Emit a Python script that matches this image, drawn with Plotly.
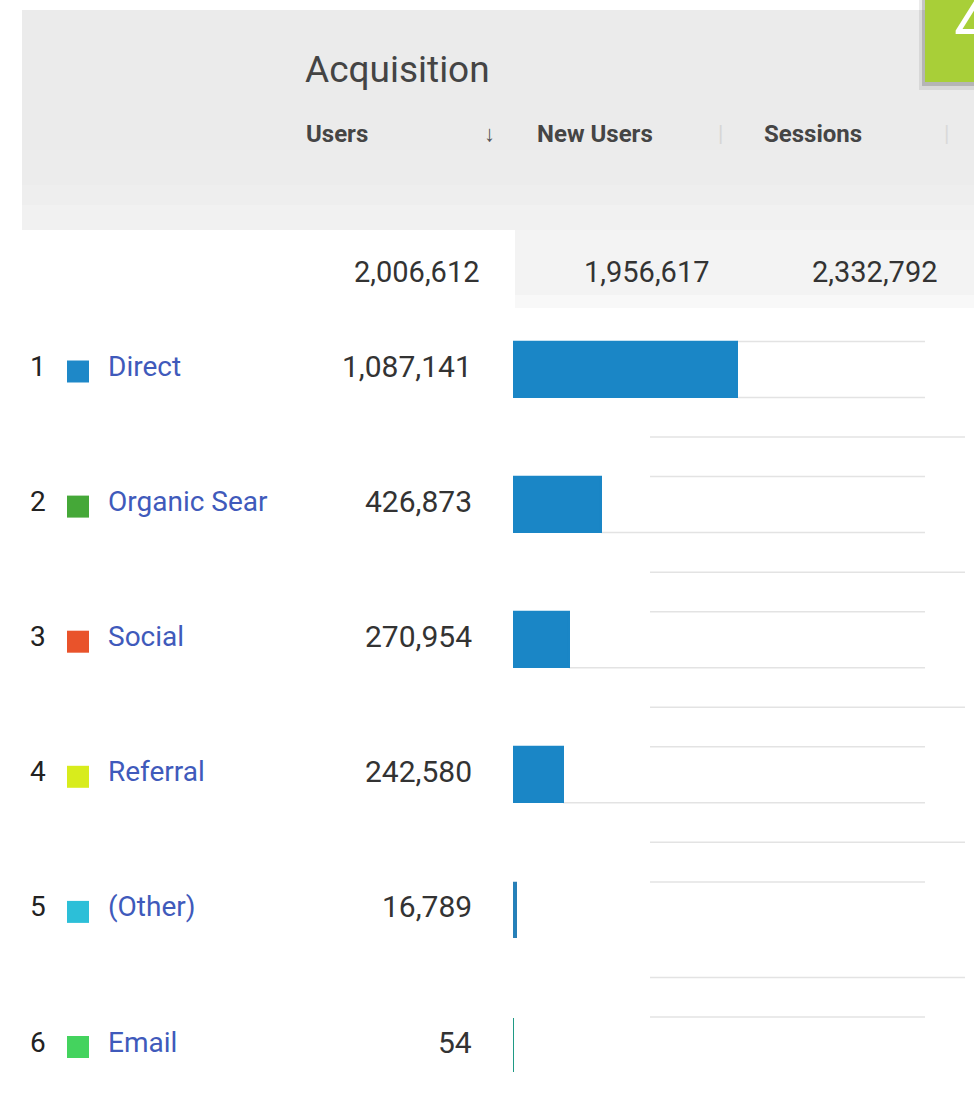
import plotly.graph_objects as go

# ---- data ----
ranks = [1, 2, 3, 4, 5, 6]
channels = ["Direct", "Organic Sear", "Social", "Referral", "(Other)", "Email"]
users = [1087141, 426873, 270954, 242580, 16789, 54]
swatch_colors = ["#1e88c8", "#45a838", "#e9532b", "#d8ec1c", "#2cbfd8", "#44d35e"]
bar_edge_colors = ["#1a86c6", "#1a86c6", "#1a86c6", "#1a86c6", "#2a7fb5", "#1f9a85"]
section_title = "Acquisition"
header_labels = ["Users", "New Users", "Sessions"]
totals = [2006612, 1956617, 2332792]
badge_text = "4"

# ---- layout helpers (pixel -> paper) ----
W, H = 974, 1116
def px(x):
    return x / W
def py(y):
    return 1 - y / H

ROW0, ROWSTEP = 369.5, 135.1
BAR_LEFT, BAR_FULL = 513, 224  # pixel where bars start, pixel length of largest bar
xmax = users[0] * (W - BAR_LEFT) / BAR_FULL

def xdata(pix):
    return (pix - BAR_LEFT) / (W - BAR_LEFT) * xmax

def rowc(i):
    return ROW0 + ROWSTEP * i

FONT = "Roboto, Arial, sans-serif"

fig = go.Figure()
fig.add_trace(go.Bar(
    y=channels, x=users, orientation="h", width=0.405,
    marker=dict(color="#1a86c6", line=dict(color=bar_edge_colors, width=2.2)),
    hoverinfo="skip", showlegend=False,
))

shapes = []
# header background (soft vertical gradient)
bands = [(10, 150, "#ebebeb"), (150, 185, "#ececec"), (185, 205, "#eeeeee"), (205, 230, "#f1f1f1")]
for y0, y1, col in bands:
    shapes.append(dict(type="rect", xref="paper", yref="paper", x0=px(22), x1=px(W), y0=py(y1), y1=py(y0),
                       fillcolor=col, line=dict(width=0), layer="below"))
shapes.append(dict(type="rect", xref="paper", yref="paper", x0=px(515), x1=px(W), y0=py(295), y1=py(230),
                   fillcolor="#f3f3f3", line=dict(width=0), layer="below"))
shapes.append(dict(type="rect", xref="paper", yref="paper", x0=px(515), x1=px(W), y0=py(308), y1=py(295),
                   fillcolor="#f8f8f8", line=dict(width=0), layer="below"))

# row separator lines on the right
GRID = "#e3e3e3"
for i, v in enumerate(users):
    c = rowc(i)
    x_top = max(v, xdata(650))
    shapes.append(dict(type="line", xref="x", yref="paper", x0=x_top, x1=xdata(925),
                       y0=py(c - 28), y1=py(c - 28), line=dict(color=GRID, width=1.5), layer="below"))
    if i < 4:
        shapes.append(dict(type="line", xref="x", yref="paper", x0=v, x1=xdata(925),
                           y0=py(c + 28), y1=py(c + 28), line=dict(color=GRID, width=1.5), layer="below"))
    if i < 5:
        shapes.append(dict(type="line", xref="paper", yref="paper", x0=px(650), x1=px(965),
                           y0=py(c + ROWSTEP / 2), y1=py(c + ROWSTEP / 2),
                           line=dict(color=GRID, width=1.5), layer="below"))

# colour swatches
for i, col in enumerate(swatch_colors):
    c = rowc(i)
    shapes.append(dict(type="rect", xref="paper", yref="paper", x0=px(67), x1=px(89),
                       y0=py(c + 13), y1=py(c - 9), fillcolor=col, line=dict(width=0)))

# badge top right with soft shadow
shapes.append(dict(type="rect", xref="paper", yref="paper", x0=px(919), x1=px(W), y0=py(90), y1=py(0),
                   fillcolor="rgba(0,0,0,0.08)", line=dict(width=0)))
shapes.append(dict(type="rect", xref="paper", yref="paper", x0=px(922), x1=px(W), y0=py(86), y1=py(0),
                   fillcolor="rgba(0,0,0,0.16)", line=dict(width=0)))
shapes.append(dict(type="rect", xref="paper", yref="paper", x0=px(925), x1=px(W), y0=py(82), y1=py(0),
                   fillcolor="#a8cf38", line=dict(width=0)))

annotations = []
def ann(text, x, y, size, color, xanchor="left", yanchor="middle", bold=False):
    t = f"<b>{text}</b>" if bold else text
    annotations.append(dict(text=t, x=px(x), y=py(y), xref="paper", yref="paper",
                            xanchor=xanchor, yanchor=yanchor, showarrow=False,
                            font=dict(family=FONT, size=size, color=color)))

ann(section_title, 303, 70, 37, "#444444")
head_x = [304, 535, 762]
for lab, hx in zip(header_labels, head_x):
    ann(lab, hx, 134, 24, "#454545", bold=True)
ann("↓", 490, 134, 22, "#555555", xanchor="center", bold=True)
ann("|", 720, 134, 22, "#d6d6d6", xanchor="center")
ann("|", 946, 134, 22, "#d9d9d9", xanchor="center")

tot_right = [482, 712, 940]
for t, tx in zip(totals, tot_right):
    ann(f"{t:,}", tx, 272, 29, "#333333", xanchor="right")

for i, (r, ch, v) in enumerate(zip(ranks, channels, users)):
    c = rowc(i) - 3
    ann(str(r), 28, c, 28, "#222222")
    ann(ch, 106, c, 28, "#3f5abb")
    ann(f"{v:,}", 474, c, 30, "#333333", xanchor="right")

annotations.append(dict(text=badge_text, x=px(952), y=py(22), xref="paper", yref="paper",
                        xanchor="left", yanchor="middle", showarrow=False,
                        font=dict(family=FONT, size=66, color="#ffffff")))

fig.update_layout(
    width=W, height=H, margin=dict(l=0, r=0, t=0, b=0),
    paper_bgcolor="#ffffff", plot_bgcolor="rgba(0,0,0,0)",
    xaxis=dict(domain=[px(BAR_LEFT), 1], range=[0, xmax], visible=False, fixedrange=True),
    yaxis=dict(domain=[0, 1], type="category", categoryorder="array", categoryarray=channels,
               range=[(H - ROW0) / ROWSTEP, -ROW0 / ROWSTEP], autorange=False,
               visible=False, fixedrange=True),
    shapes=shapes, annotations=annotations, bargap=0,
)

fig.write_html("out.html", config={"displayModeBar": False},
               post_script="document.body.style.margin='0';document.body.style.overflow='hidden';")
